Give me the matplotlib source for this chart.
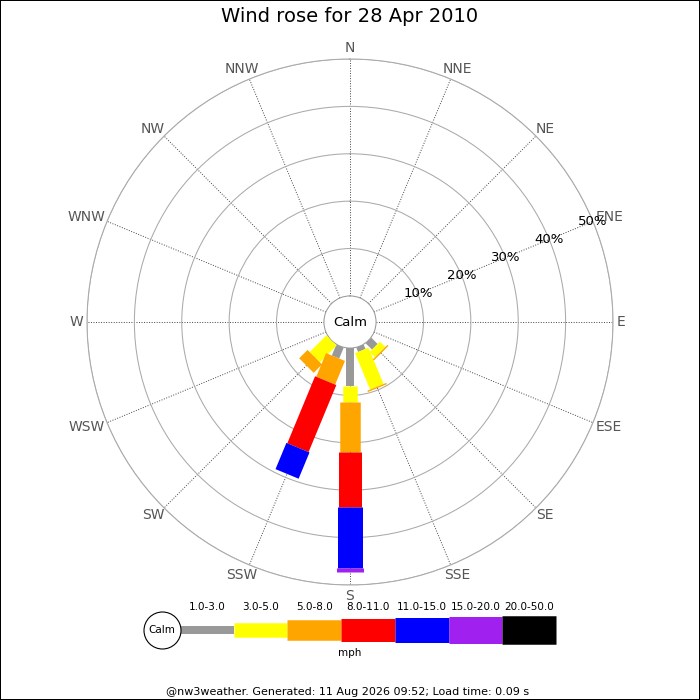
import numpy as np
import matplotlib
matplotlib.use("Agg")
import matplotlib.pyplot as plt
from matplotlib.patches import Rectangle

# ---------------- data ----------------
DIRECTIONS = ["N", "NNE", "NE", "ENE", "E", "ESE", "SE", "SSE",
              "S", "SSW", "SW", "WSW", "W", "WNW", "NW", "NNW"]
SPEED_CLASSES = ["1.0-3.0", "3.0-5.0", "5.0-8.0", "8.0-11.0",
                 "11.0-15.0", "15.0-20.0", "20.0-50.0"]
UNITS = "mph"
# percentage of time per direction for each speed class
#                N  NNE NE ENE E ESE  SE   SSE   S     SSW   SW  WSW W WNW NW NNW
PCT_1_3   = [0, 0, 0, 0, 0, 0, 1.9, 1.0, 8.0,  2.5,  0.0, 0, 0, 0, 0, 0]
PCT_3_5   = [0, 0, 0, 0, 0, 0, 1.6, 8.3, 3.35, 0.0,  5.0, 0, 0, 0, 0, 0]
PCT_5_8   = [0, 0, 0, 0, 0, 0, 0.3, 0.3, 10.6, 5.4,  2.5, 0, 0, 0, 0, 0]
PCT_8_11  = [0, 0, 0, 0, 0, 0, 0.0, 0.0, 11.6, 15.3, 0.0, 0, 0, 0, 0, 0]
PCT_11_15 = [0, 0, 0, 0, 0, 0, 0.0, 0.0, 12.8, 6.0,  0.0, 0, 0, 0, 0, 0]
PCT_15_20 = [0, 0, 0, 0, 0, 0, 0.0, 0.0, 0.85, 0.0,  0.0, 0, 0, 0, 0, 0]
PCT_20_50 = [0, 0, 0, 0, 0, 0, 0.0, 0.0, 0.0,  0.0,  0.0, 0, 0, 0, 0, 0]
RING_TICKS = [10, 20, 30, 40, 50]
TITLE = "Wind rose for 28 Apr 2010"
FOOTER = "@nw3weather. Generated: 11 Aug 2026 09:52; Load time: 0.09 s"

# ---------------- styles ----------------
COLORS = ["#999999", "#ffff00", "#ffa500", "#ff0000", "#0000ff", "#a020f0", "#000000"]
WIDTHS_PX = [8, 14.5, 20.5, 23, 25, 27, 28.5]
PX = 72 / 100.0  # points per pixel at dpi 100
CALM_R = 5.5     # radius of the calm hole in % units

series = [PCT_1_3, PCT_3_5, PCT_5_8, PCT_8_11, PCT_11_15, PCT_15_20, PCT_20_50]

fig = plt.figure(figsize=(7, 7), dpi=100)
fig.patch.set_facecolor("white")

R = 263
cx, cy = 350, 700 - 322
ax = fig.add_axes([(cx - R) / 700, (cy - R) / 700, 2 * R / 700, 2 * R / 700],
                  projection="polar")
ax.set_theta_zero_location("N")
ax.set_theta_direction(-1)
ax.set_ylim(0, RING_TICKS[-1])
ax.set_rorigin(-CALM_R)
ax.set_facecolor("white")

thetas = np.deg2rad(np.arange(len(DIRECTIONS)) * 360.0 / len(DIRECTIONS))
ax.set_xticks(thetas)
ax.set_xticklabels([])
ax.tick_params(axis="x", length=0)
ax.set_yticks(RING_TICKS)
ax.set_yticklabels([])
ax.tick_params(axis="y", length=0)
ax.xaxis.grid(True, color="#444444", linestyle=(0, (1, 1.6)), linewidth=0.7)
ax.yaxis.grid(True, color="#aaaaaa", linestyle="-", linewidth=0.75)
ax.spines["polar"].set_color("#aaaaaa")
ax.spines["polar"].set_linewidth(0.75)
ax.spines["inner"].set_color("#999999")
ax.spines["inner"].set_linewidth(0.75)

# stacked bars drawn as constant-width radial strokes
for d, th in enumerate(thetas):
    base = 0.0
    for k, vals in enumerate(series):
        v = vals[d]
        if v > 0:
            ax.plot([th, th], [base, base + v], color=COLORS[k],
                    linewidth=WIDTHS_PX[k] * PX, solid_capstyle="butt",
                    zorder=3 + k * 0.01)
        base += v

# ring labels along ENE
lab_theta = thetas[DIRECTIONS.index("ENE")]
for r in RING_TICKS:
    ax.text(lab_theta, r, f"{r}%", ha="center", va="center",
            fontsize=9.5, color="black", zorder=5)

ax.text(0.5, 0.5, "Calm", transform=ax.transAxes, ha="center", va="center",
        fontsize=9.5, color="black", zorder=6)

# direction labels
fig.canvas.draw()
renderer = fig.canvas.get_renderer()
PAD = 3.5
for name, th in zip(DIRECTIONS, thetas):
    t = ax.annotate(name, xy=(th, RING_TICKS[-1]), xytext=(0, 0),
                    textcoords="offset pixels", ha="center", va="center",
                    color="#555555", fontsize=10, annotation_clip=False)
    bb = t.get_window_extent(renderer)
    s, c = np.sin(th), np.cos(th)
    t.xyann = ((PAD + bb.width / 2) * s, (PAD + bb.height / 2) * c)

# ---------------- legend ----------------
leg_left, leg_right = 180, 556
leg_cy = 700 - 630
lax = fig.add_axes([leg_left / 700, (leg_cy - 15) / 700,
                    (leg_right - leg_left) / 700, 30 / 700])
lax.set_xlim(0, len(SPEED_CLASSES))
lax.set_ylim(-1, 1)
lax.axis("off")
for k, lab in enumerate(SPEED_CLASSES):
    lax.plot([k, k + 1], [0, 0], color=COLORS[k], linewidth=WIDTHS_PX[k] * PX,
             solid_capstyle="butt", clip_on=False)
    lax.annotate(lab, xy=(k + 0.5, 0), xytext=(0, 23 * PX),
                 textcoords="offset points", ha="center", va="center",
                 fontsize=7.5, color="black", annotation_clip=False)
unit_px = (leg_right - leg_left) / len(SPEED_CLASSES)
calm_x = (162.3 - leg_left) / unit_px
lax.plot([calm_x], [0], marker="o", markersize=37 * PX, markerfacecolor="white",
         markeredgecolor="black", markeredgewidth=0.8, clip_on=False, zorder=5)
lax.text(calm_x, 0, "Calm", ha="center", va="center", fontsize=7.5, zorder=6)

fig.text(0.5, 1 - 653.5 / 700, UNITS, ha="center", va="center", fontsize=7.5)
fig.text(0.5, 1 - 17 / 700, TITLE, ha="center", va="center", fontsize=14)
fig.text(348 / 700, 1 - 692 / 700, FOOTER, ha="center", va="center", fontsize=8)

fig.add_artist(Rectangle((0, 0), 1, 1, transform=fig.transFigure, fill=False,
                         edgecolor="black", linewidth=2 * PX))

fig.savefig("out.png", dpi=100, facecolor="white")
